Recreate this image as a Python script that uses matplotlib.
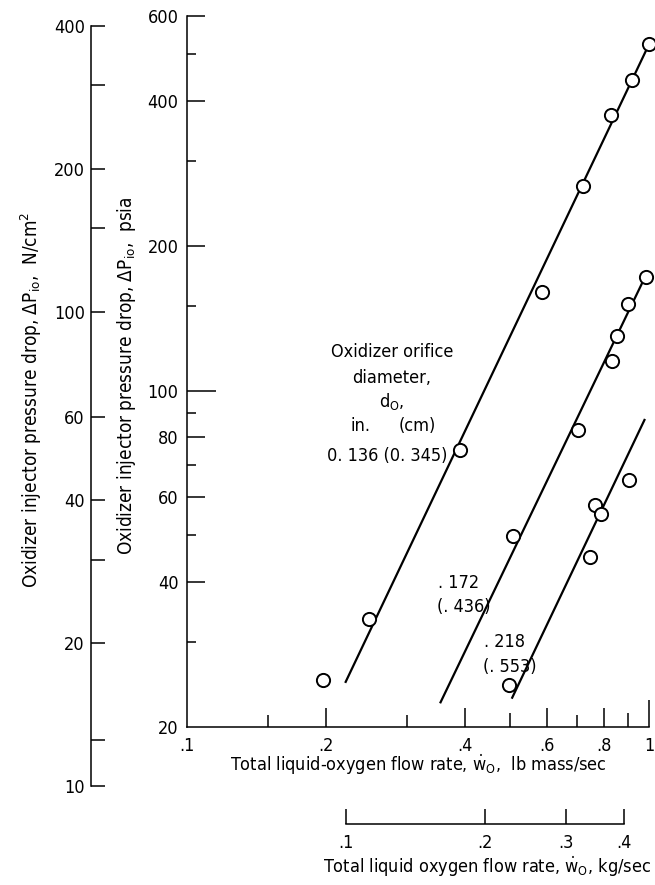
import matplotlib
matplotlib.use("Agg")
import matplotlib.pyplot as plt
from matplotlib.ticker import FixedLocator, FixedFormatter, NullFormatter
import numpy as np

# ---- measured data: oxidizer injector pressure drop vs. liquid-oxygen flow ----
flow_136 = [0.197, 0.248, 0.389, 0.588, 0.721, 0.828, 0.917, 1.0]      # lb mass/sec
dp_136 = [25.1, 33.6, 75.1, 160.0, 266.0, 373.0, 442.0, 524.0]          # psia
flow_172 = [0.507, 0.701, 0.833, 0.851, 0.902, 0.984]
dp_172 = [49.9, 82.7, 115.0, 130.0, 151.0, 172.0]
flow_218 = [0.498, 0.746, 0.765, 0.787, 0.907]
dp_218 = [24.4, 45.0, 57.9, 55.4, 65.1]

# faired curves (end points) for each orifice diameter
fit_136_x = [0.22, 1.0]
fit_136_y = [24.7, 524.0]
fit_172_x = [0.353, 0.98]
fit_172_y = [22.4, 172.0]
fit_218_x = [0.5045, 0.98]
fit_218_y = [22.9, 87.3]

# ---- axis ticks ----
psia_major = [20, 40, 60, 80, 100, 200, 400, 600]
psia_major_labels = ["20", "40", "60", "80", "100", "200", "400", "600"]
psia_minor = [30, 50, 70, 90, 150, 300, 500]
lb_major = [0.1, 0.2, 0.4, 0.6, 0.8, 1.0]
lb_major_labels = [".1", ".2", ".4", ".6", ".8", "1"]
lb_minor = [0.15, 0.3, 0.5, 0.7, 0.9]
ncm_major = [10, 20, 40, 60, 100, 200, 400]
ncm_major_labels = ["10", "20", "40", "60", "100", "200", "400"]
ncm_minor = [12.5, 30, 150, 300]
kg_ticks = [0.1, 0.2, 0.3, 0.4]
kg_labels = [".1", ".2", ".3", ".4"]
LB_PER_KG = 2.20462

plt.rcParams["font.family"] = ["DejaVu Sans"]
plt.rcParams["font.stretch"] = "condensed"
plt.rcParams["mathtext.fontset"] = "custom"
plt.rcParams["mathtext.rm"] = "DejaVu Sans:stretch=condensed"
plt.rcParams["mathtext.it"] = "DejaVu Sans:stretch=condensed"
plt.rcParams["mathtext.sf"] = "DejaVu Sans:stretch=condensed"

W, H = 655, 885
fig = plt.figure(figsize=(W / 100, H / 100), dpi=100)


def fx(px):
    return px / W


def fy(py):
    return 1 - py / H


TICK_FS = 13
LABEL_FS = 13
YLABEL_FS = 13.6
LW = 1.1

# ---- main axes (psia vs lb/sec) ----
L, B, R, T = 187, 727, 649, 16
ax = fig.add_axes([fx(L), fy(B), fx(R) - fx(L), fy(T) - fy(B)])
ax.set_xscale("log")
ax.set_yscale("log")
ax.set_xlim(0.1, 1.0)
ax.set_ylim(20, 600)
for s in ("top", "right"):
    ax.spines[s].set_visible(False)
for s in ("left", "bottom"):
    ax.spines[s].set_linewidth(LW)

ax.yaxis.set_major_locator(FixedLocator(psia_major))
ax.yaxis.set_major_formatter(FixedFormatter(psia_major_labels))
ax.yaxis.set_minor_locator(FixedLocator(psia_minor))
ax.yaxis.set_minor_formatter(NullFormatter())
ax.xaxis.set_major_locator(FixedLocator(lb_major))
ax.xaxis.set_major_formatter(FixedFormatter(lb_major_labels))
ax.xaxis.set_minor_locator(FixedLocator(lb_minor))
ax.xaxis.set_minor_formatter(NullFormatter())

ax.tick_params(axis="both", which="both", direction="in", width=LW, color="black",
               labelsize=TICK_FS)
ax.tick_params(axis="y", which="major", length=13, pad=6)
ax.tick_params(axis="y", which="minor", length=6.5)
ax.tick_params(axis="x", which="major", length=14, pad=7)
ax.tick_params(axis="x", which="minor", length=8.6)

# individual tick lengths
for tk, v in zip(ax.yaxis.get_major_ticks(), psia_major):
    if v == 100:
        tk.tick1line.set_markersize(21)
    elif v == 20:
        tk.tick1line.set_markersize(0)
for tk, v in zip(ax.xaxis.get_major_ticks(), lb_major):
    if v == 1.0:
        tk.tick1line.set_markersize(19.5)
    elif v == 0.1:
        tk.tick1line.set_markersize(0)
for tk, v in zip(ax.xaxis.get_minor_ticks(), lb_minor):
    if v in (0.5, 0.9):
        tk.tick1line.set_markersize(10)

# faired lines and data points
line_kw = dict(color="black", lw=1.6, solid_capstyle="butt", zorder=2)
pt_kw = dict(ls="none", marker="o", ms=9.5, mfc="white", mec="black", mew=1.4,
             zorder=3, clip_on=False)
ax.plot(fit_136_x, fit_136_y, **line_kw)
ax.plot(fit_172_x, fit_172_y, **line_kw)
ax.plot(fit_218_x, fit_218_y, **line_kw)
ax.plot(flow_136, dp_136, **pt_kw)
ax.plot(flow_172, dp_172, **pt_kw)
ax.plot(flow_218, dp_218, **pt_kw)

ax.set_xlabel(r"Total liquid-oxygen flow rate, $\dot{\mathrm{w}}_{\mathrm{O}}$,  lb mass/sec",
              fontsize=LABEL_FS, va="center")
ax.xaxis.set_label_coords(fx(418), fy(765), transform=fig.transFigure)
ax.set_ylabel(r"Oxidizer injector pressure drop, $\Delta\mathrm{P}_{\mathrm{io}}$,  psia",
              fontsize=YLABEL_FS, va="center")
ax.yaxis.set_label_coords(fx(127), fy(376), transform=fig.transFigure)

# ---- left scale in N/cm^2 ----
axn = fig.add_axes([fx(91), fy(786), 0.05, fy(26) - fy(786)])
axn.set_yscale("log")
axn.set_ylim(10, 400)
axn.patch.set_visible(False)
for s in ("top", "right", "bottom"):
    axn.spines[s].set_visible(False)
axn.spines["left"].set_linewidth(LW)
axn.set_xticks([])
axn.yaxis.set_major_locator(FixedLocator(ncm_major))
axn.yaxis.set_major_formatter(FixedFormatter(ncm_major_labels))
axn.yaxis.set_minor_locator(FixedLocator(ncm_minor))
axn.yaxis.set_minor_formatter(NullFormatter())
axn.tick_params(axis="y", which="both", direction="in", length=10, width=LW,
                color="black", labelsize=TICK_FS, pad=4.5)
axn.set_ylabel(r"Oxidizer injector pressure drop, $\Delta\mathrm{P}_{\mathrm{io}}$,  N/cm$^2$",
               fontsize=YLABEL_FS, va="center")
axn.yaxis.set_label_coords(fx(31), fy(400), transform=fig.transFigure)

# ---- lower scale in kg/sec, aligned with the lb/sec scale ----
main_w = fx(R) - fx(L)
k0 = fx(L) + main_w * np.log10(kg_ticks[0] * LB_PER_KG / 0.1)
k1 = fx(L) + main_w * np.log10(kg_ticks[-1] * LB_PER_KG / 0.1)
axk = fig.add_axes([k0, fy(824), k1 - k0, 0.02])
axk.set_xscale("log")
axk.set_xlim(kg_ticks[0], kg_ticks[-1])
axk.patch.set_visible(False)
for s in ("top", "right", "left"):
    axk.spines[s].set_visible(False)
axk.spines["bottom"].set_linewidth(LW)
axk.set_yticks([])
axk.xaxis.set_major_locator(FixedLocator(kg_ticks))
axk.xaxis.set_major_formatter(FixedFormatter(kg_labels))
axk.xaxis.set_minor_locator(FixedLocator([]))
axk.tick_params(axis="x", which="major", direction="in", length=11, width=LW,
                color="black", labelsize=TICK_FS, pad=7)
axk.set_xlabel(r"Total liquid oxygen flow rate, $\dot{\mathrm{w}}_{\mathrm{O}}$, kg/sec",
               fontsize=LABEL_FS, va="center")
axk.xaxis.set_label_coords(fx(487), fy(867), transform=fig.transFigure)

# ---- curve annotations ----
TXT_FS = 13
fig.text(fx(392), fy(352), "Oxidizer orifice", ha="center", va="center", fontsize=TXT_FS)
fig.text(fx(392), fy(378), "diameter,", ha="center", va="center", fontsize=TXT_FS)
fig.text(fx(379), fy(402), r"d$_{\mathrm{O}}$,", ha="left", va="center", fontsize=TXT_FS)
fig.text(fx(360), fy(426), "in.", ha="center", va="center", fontsize=TXT_FS)
fig.text(fx(417), fy(426), "(cm)", ha="center", va="center", fontsize=TXT_FS)
fig.text(fx(447), fy(456), "0. 136 (0. 345)", ha="right", va="center", fontsize=TXT_FS)
fig.text(fx(438), fy(583), ". 172", ha="left", va="center", fontsize=TXT_FS)
fig.text(fx(437), fy(607), "(. 436)", ha="left", va="center", fontsize=TXT_FS)
fig.text(fx(484), fy(642), ". 218", ha="left", va="center", fontsize=TXT_FS)
fig.text(fx(483), fy(667), "(. 553)", ha="left", va="center", fontsize=TXT_FS)

fig.savefig("out.png", dpi=100)
